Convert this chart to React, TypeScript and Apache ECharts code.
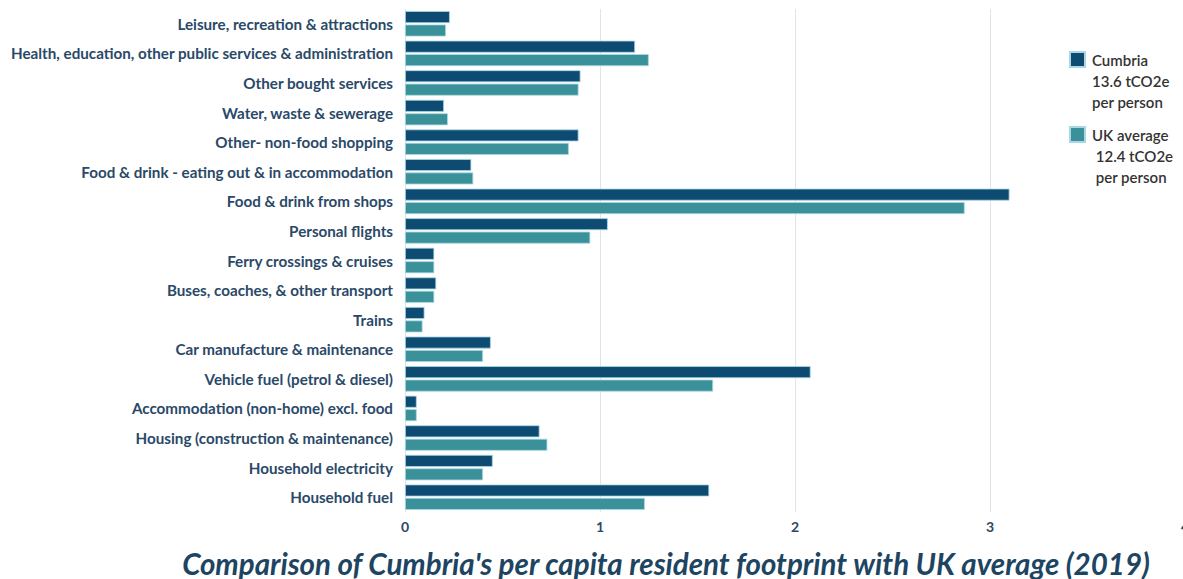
import React, { useEffect, useRef } from "react";
import * as echarts from "echarts";

const categories = [
  "Leisure, recreation & attractions",
  "Health, education, other public services & administration",
  "Other bought services",
  "Water, waste & sewerage",
  "Other- non-food shopping",
  "Food & drink - eating out & in accommodation",
  "Food & drink from shops",
  "Personal flights",
  "Ferry crossings & cruises",
  "Buses, coaches, & other transport",
  "Trains",
  "Car manufacture & maintenance",
  "Vehicle fuel (petrol & diesel)",
  "Accommodation (non-home) excl. food",
  "Housing (construction & maintenance)",
  "Household electricity",
  "Household fuel",
];

const cumbria = [0.23, 1.18, 0.9, 0.2, 0.89, 0.34, 3.1, 1.04, 0.15, 0.16, 0.1, 0.44, 2.08, 0.06, 0.69, 0.45, 1.56];
const ukAverage = [0.21, 1.25, 0.89, 0.22, 0.84, 0.35, 2.87, 0.95, 0.15, 0.15, 0.09, 0.4, 1.58, 0.06, 0.73, 0.4, 1.23];

const seriesNames = ["Cumbria", "UK average"];
const legendLabels = ["\n\nCumbria\n13.6 tCO2e\nper person", "\n\nUK average\n 12.4 tCO2e\n per person"];
const xTicks = [0, 1, 2, 3, 4];
const titleText = "Comparison of Cumbria's per capita resident footprint with UK average (2019)";

export default function App() {
  const ref = useRef<HTMLDivElement>(null);
  useEffect(() => {
    if (!ref.current) return;
    const chart = echarts.init(ref.current, undefined, { renderer: "svg" });
    const labelColor = "#2a4968";
    const legendCommon = {
      orient: "vertical",
      left: 1069,
      itemWidth: 15,
      itemHeight: 15,
      itemGap: 10,
      padding: 0,
      icon: "rect",
      textStyle: {
        fontFamily: "Lato",
        fontSize: 15,
        fontWeight: 600,
        color: "#333333",
        lineHeight: 21,
        padding: [0, 0, 0, 2],
      },
    };
    chart.setOption({
      animation: false,
      backgroundColor: "#ffffff",
      grid: {
        left: 405,
        width: 780,
        top: 9,
        bottom: 67,
        containLabel: false,
        outerBoundsMode: "none",
      },
      legend: [
        {
          ...legendCommon,
          top: 7,
          data: [seriesNames[0]],
          formatter: () => legendLabels[0],
        },
        {
          ...legendCommon,
          top: 82,
          data: [seriesNames[1]],
          formatter: () => legendLabels[1],
        },
      ],
      xAxis: {
        type: "value",
        min: xTicks[0],
        max: xTicks[xTicks.length - 1],
        interval: 1,
        axisLine: { show: false },
        axisTick: { show: false },
        splitLine: { show: true, lineStyle: { color: "#dfe4e8", width: 1 } },
        axisLabel: {
          color: labelColor,
          fontFamily: "Lato",
          fontWeight: "bold",
          fontSize: 14,
          margin: 7,
        },
      },
      yAxis: {
        type: "category",
        data: categories,
        inverse: true,
        axisLine: { show: false },
        axisTick: { show: false },
        axisLabel: {
          color: labelColor,
          fontFamily: "Lato",
          fontWeight: "bold",
          fontSize: 15.2,
          margin: 12,
        },
      },
      series: [
        {
          name: seriesNames[0],
          type: "bar",
          data: cumbria,
          barWidth: 12,
          barGap: "12%",
          itemStyle: { color: "#0d4b72", borderColor: "#a9d8e4", borderWidth: 0.8 },
        },
        {
          name: seriesNames[1],
          type: "bar",
          data: ukAverage,
          barWidth: 12,
          itemStyle: { color: "#3a9199", borderColor: "#a9d8e4", borderWidth: 0.8 },
        },
      ],
      graphic: [
        {
          type: "text",
          x: 666,
          y: 563,
          style: {
            text: titleText,
            align: "center",
            verticalAlign: "middle",
            fontFamily: "Lato",
            fontStyle: "italic",
            fontWeight: "bold",
            fontSize: 29.5,
            fill: "#1d4562",
          },
        },
      ],
    });
    return () => chart.dispose();
  }, []);
  return (
    <div
      ref={ref}
      style={{ position: "absolute", left: 0, top: 0, width: 1183, height: 579 }}
    />
  );
}
